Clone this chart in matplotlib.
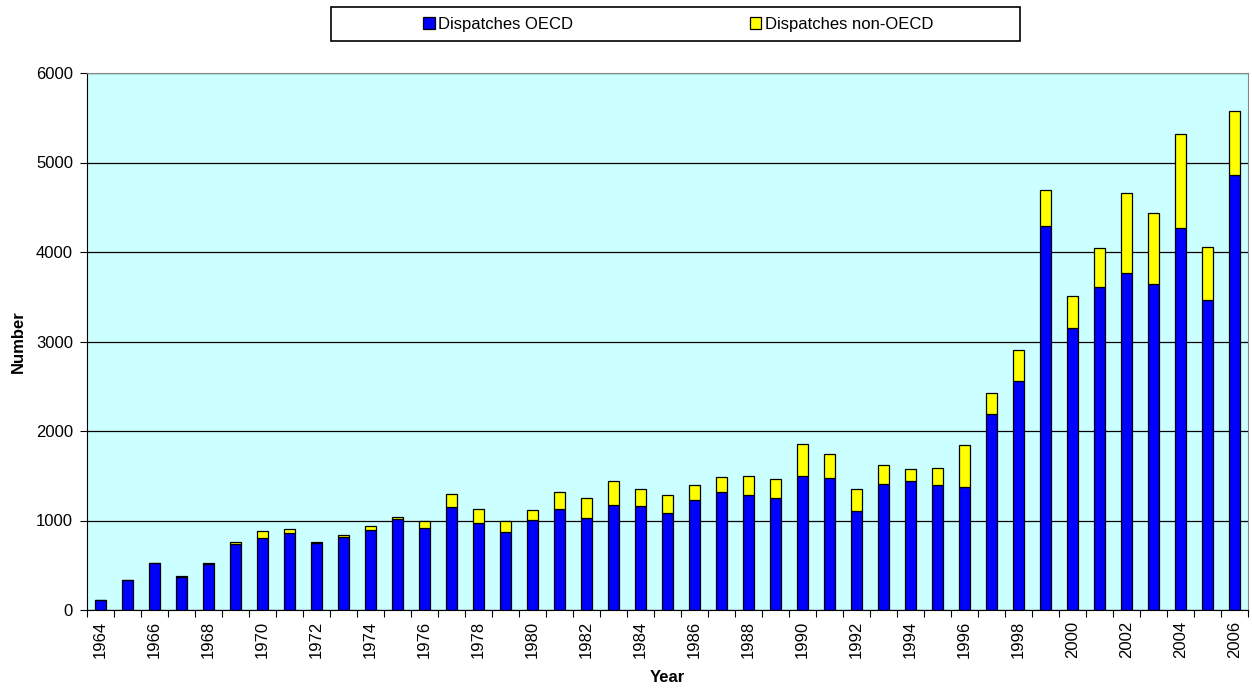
import matplotlib
matplotlib.use("Agg")
from matplotlib import pyplot as plt
from matplotlib.patches import Rectangle
import numpy as np

plt.rcParams['font.family'] = ['Liberation Sans', 'DejaVu Sans']

years = list(range(1964, 2007))
oecd = [110, 330, 520, 370, 510, 740, 810, 860, 745, 820,
        890, 1020, 920, 1150, 970, 870, 1010, 1130, 1030, 1170,
        1160, 1080, 1230, 1320, 1290, 1250, 1500, 1470, 1110, 1410,
        1440, 1400, 1370, 2190, 2560, 4290, 3150, 3610, 3760, 3640,
        4270, 3460, 4860]
non_oecd = [0, 0, 0, 10, 10, 20, 70, 40, 15, 15,
            50, 20, 70, 150, 160, 130, 110, 190, 220, 270,
            190, 200, 170, 170, 210, 210, 360, 270, 240, 210,
            140, 190, 470, 230, 340, 400, 360, 430, 900, 800,
            1050, 600, 710]

fig = plt.figure(figsize=(12.52, 6.89), dpi=100)
ax = fig.add_axes([87/1252, 79/689, 1161/1252, 537/689])
ax.set_facecolor('#CCFFFF')

x = np.arange(len(years))
w = 0.38
ax.bar(x, oecd, w, color='#0000FF', edgecolor='black', linewidth=0.9,
       label='Dispatches OECD', zorder=3)
ax.bar(x, non_oecd, w, bottom=oecd, color='#FFFF00', edgecolor='black',
       linewidth=0.9, label='Dispatches non-OECD', zorder=3)

ax.set_xlim(-0.5, len(years) - 0.5)
ax.set_ylim(0, 6000)
ax.set_yticks(range(0, 6001, 1000))
ax.yaxis.grid(True, color='black', linewidth=0.9, zorder=0)

# ticks at category boundaries, labels every second year
ax.set_xticks(np.arange(-0.5, len(years), 1))
ax.set_xticklabels([])
ax.set_xticks(x[::2], minor=True)
ax.set_xticklabels([str(y) for y in years[::2]], minor=True, rotation=90,
                   fontsize=12)
ax.tick_params(axis='x', which='minor', length=0, pad=8)
ax.tick_params(axis='x', which='major', length=5, direction='out')
ax.tick_params(axis='y', labelsize=12, length=5, pad=5)

for s in ['top', 'right']:
    ax.spines[s].set_color('#888888')

ax.set_xlabel('Year', fontsize=12, fontweight='bold', labelpad=8)
ax.set_ylabel('Number', fontsize=12, fontweight='bold', labelpad=7)

fig.patches.append(Rectangle((331/1252, 1 - 41/689), 689/1252, 34/689,
                             transform=fig.transFigure, facecolor='white',
                             edgecolor='black', linewidth=1.2))
leg = fig.legend(loc='center', bbox_to_anchor=(678/1252, 1 - 24/689),
                 ncol=2, frameon=False, fontsize=12,
                 handlelength=0.7, handleheight=0.7,
                 handletextpad=0.2, columnspacing=10.6)

fig.savefig('out.png', dpi=100)
